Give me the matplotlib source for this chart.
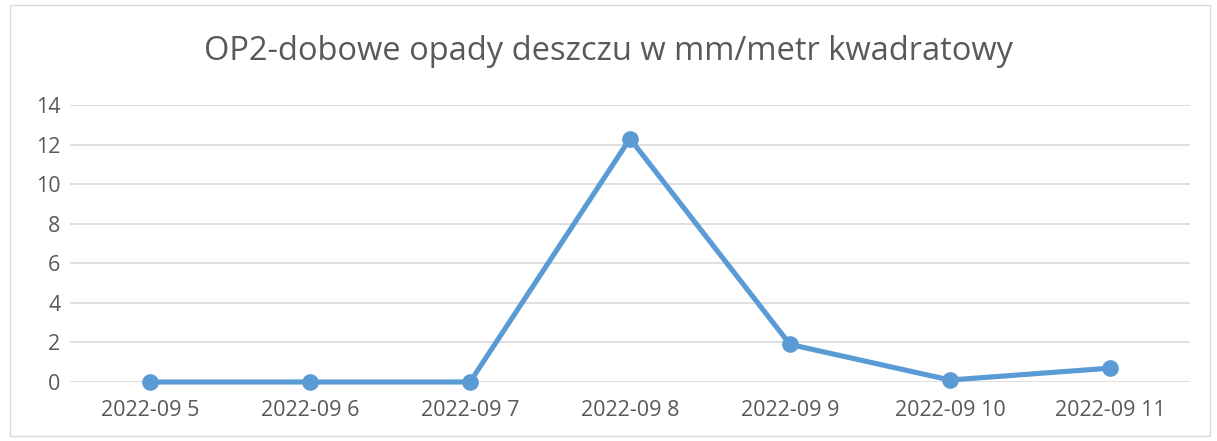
import matplotlib
matplotlib.use("Agg")
import matplotlib.pyplot as plt
from matplotlib.patches import Rectangle

# dane: opady dobowe OP2
dates = ["2022-09 5", "2022-09 6", "2022-09 7", "2022-09 8",
         "2022-09 9", "2022-09 10", "2022-09 11"]
rain_mm = [0, 0, 0, 12.3, 1.9, 0.1, 0.7]

plt.rcParams['font.family'] = ['Open Sans', 'DejaVu Sans']

fig = plt.figure(figsize=(12.17, 4.41), dpi=100)
ax = fig.add_axes([70/1217, 1 - 382/441, 1120/1217, 277/441])

# ramka wykresu
fig.patches.append(Rectangle((10/1217, 1 - 436/441), 1200/1217, 431/441,
                             transform=fig.transFigure, fill=False,
                             edgecolor="#d9d9d9", linewidth=1))

x = list(range(len(dates)))
ax.plot(x, rain_mm, color="#5B9BD5", linewidth=3.7, marker="o",
        markersize=11, zorder=3, clip_on=False)

ax.set_xlim(-0.5, len(dates) - 0.5)
ax.set_ylim(0, 14)
ax.set_yticks(range(0, 15, 2))
ax.set_xticks(x)
ax.set_xticklabels(dates)
ax.yaxis.grid(True, color="#d9d9d9", linewidth=1.2)
ax.set_axisbelow(True)
for s in ax.spines.values():
    s.set_visible(False)
ax.tick_params(length=0, labelsize=15.5, colors="#595959", pad=13)
ax.tick_params(axis="y", pad=7)

fig.text(0.5, 1 - 52/441, "OP2-dobowe opady deszczu w mm/metr kwadratowy",
         ha="center", va="center", fontsize=23.5, color="#595959")

fig.savefig("out.png", dpi=100)
